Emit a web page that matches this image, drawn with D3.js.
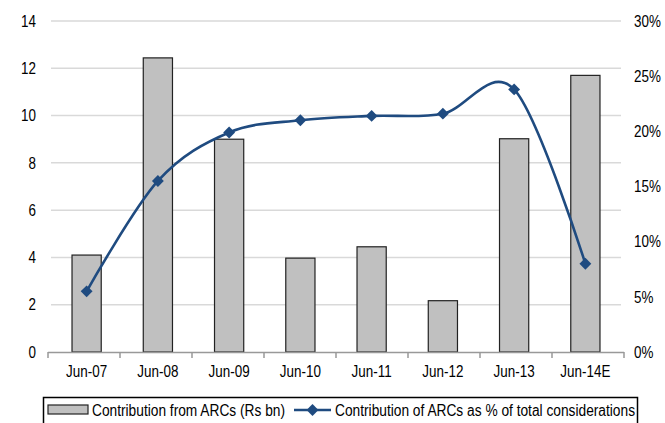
<!DOCTYPE html>
<html>
<head>
<meta charset="utf-8">
<script src="https://cdn.jsdelivr.net/npm/d3@7"></script>
<style>
  body { margin: 0; background: #fff; }
  svg text { font-family: "Liberation Sans", Arial, sans-serif; fill: #000; }
</style>
</head>
<body>
<svg id="chart" width="665" height="423"></svg>
<script>
// values
const years = ["Jun-07", "Jun-08", "Jun-09", "Jun-10", "Jun-11", "Jun-12", "Jun-13", "Jun-14E"];
const contribution = [4.1, 12.44, 9.0, 3.97, 4.45, 2.17, 9.02, 11.7];   // Rs bn
const share = [5.5, 15.5, 19.9, 21.0, 21.4, 21.6, 23.8, 8.0];           // % of total
const leftTicks = [0, 2, 4, 6, 8, 10, 12, 14];
const rightTicks = [0, 5, 10, 15, 20, 25, 30];

const svg = d3.select("#chart");
const m = { left: 51, right: 621, top: 21, bottom: 352 };
const narrow = 0.84; // the original uses a condensed face

const x = d3.scaleBand().domain(years).range([m.left, m.right]).paddingInner(0.59).paddingOuter(0.295);
const y = d3.scaleLinear().domain([0, 14]).range([m.bottom, m.top]);
const y2 = d3.scaleLinear().domain([0, 30]).range([m.bottom, m.top]);

// gridlines
svg.append("g")
  .selectAll("line")
  .data(leftTicks.slice(1))
  .join("line")
  .attr("x1", m.left).attr("x2", m.right)
  .attr("y1", d => y(d)).attr("y2", d => y(d))
  .attr("stroke", "#d9d9d9").attr("stroke-width", 1.5);

// left axis labels
svg.append("g")
  .selectAll("text")
  .data(leftTicks)
  .join("text")
  .attr("transform", d => `translate(36,${y(d)}) scale(${narrow},1)`)
  .attr("dy", "0.36em")
  .attr("text-anchor", "end")
  .attr("font-size", 16)
  .text(d => d);

// right axis labels
svg.append("g")
  .selectAll("text")
  .data(rightTicks)
  .join("text")
  .attr("transform", d => `translate(634,${y2(d)}) scale(${narrow},1)`)
  .attr("dy", "0.36em")
  .attr("font-size", 16)
  .text(d => d + "%");

// bars
svg.append("g")
  .selectAll("rect")
  .data(years)
  .join("rect")
  .attr("x", d => x(d))
  .attr("width", x.bandwidth())
  .attr("y", (d, i) => y(contribution[i]))
  .attr("height", (d, i) => y(0) - y(contribution[i]))
  .attr("fill", "#c0c0c0")
  .attr("stroke", "#222")
  .attr("stroke-width", 1.2);

// x axis
const xAxis = svg.append("g");
xAxis.append("line")
  .attr("x1", m.left - 3).attr("x2", m.right + 3)
  .attr("y1", m.bottom + 0.5).attr("y2", m.bottom + 0.5)
  .attr("stroke", "#999").attr("stroke-width", 1.5);
xAxis.selectAll("line.tick")
  .data(d3.range(years.length + 1))
  .join("line")
  .attr("class", "tick")
  .attr("x1", i => m.left - 3 + i * (m.right - m.left + 6) / years.length)
  .attr("x2", i => m.left - 3 + i * (m.right - m.left + 6) / years.length)
  .attr("y1", m.bottom).attr("y2", m.bottom + 6)
  .attr("stroke", "#999").attr("stroke-width", 1.5);
xAxis.selectAll("text")
  .data(years)
  .join("text")
  .attr("transform", d => `translate(${x(d) + x.bandwidth() / 2},377) scale(${narrow},1)`)
  .attr("text-anchor", "middle")
  .attr("font-size", 16)
  .text(d => d);

// smoothed line
const blue = "#1f4b80";
const line = d3.line()
  .x((d, i) => x(years[i]) + x.bandwidth() / 2)
  .y(d => y2(d))
  .curve(d3.curveCardinal.tension(0));
svg.append("path")
  .datum(share)
  .attr("d", line)
  .attr("fill", "none")
  .attr("stroke", blue)
  .attr("stroke-width", 2.6);

const diamond = d3.symbol().type(d3.symbolDiamond2).size(90);
svg.append("g")
  .selectAll("path")
  .data(share)
  .join("path")
  .attr("transform", (d, i) => `translate(${x(years[i]) + x.bandwidth() / 2},${y2(d)})`)
  .attr("d", diamond)
  .attr("fill", blue);

// legend
const lg = svg.append("g");
lg.append("rect")
  .attr("x", 43.5).attr("y", 397.5).attr("width", 594).attr("height", 40)
  .attr("fill", "#fff").attr("stroke", "#000").attr("stroke-width", 1.5);
lg.append("rect")
  .attr("x", 48).attr("y", 405).attr("width", 40).attr("height", 9)
  .attr("fill", "#c0c0c0").attr("stroke", "#222").attr("stroke-width", 1.2);
lg.append("text").attr("x", 92).attr("y", 415.5).attr("font-size", 16)
  .attr("textLength", 193).attr("lengthAdjust", "spacingAndGlyphs")
  .text("Contribution from ARCs (Rs bn)");
lg.append("line")
  .attr("x1", 294).attr("x2", 331).attr("y1", 410).attr("y2", 410)
  .attr("stroke", blue).attr("stroke-width", 2.6);
lg.append("path")
  .attr("transform", "translate(312.5,410)")
  .attr("d", diamond)
  .attr("fill", blue);
lg.append("text").attr("x", 335).attr("y", 415.5).attr("font-size", 16)
  .attr("textLength", 300).attr("lengthAdjust", "spacingAndGlyphs")
  .text("Contribution of ARCs as % of total considerations");
</script>
</body>
</html>
